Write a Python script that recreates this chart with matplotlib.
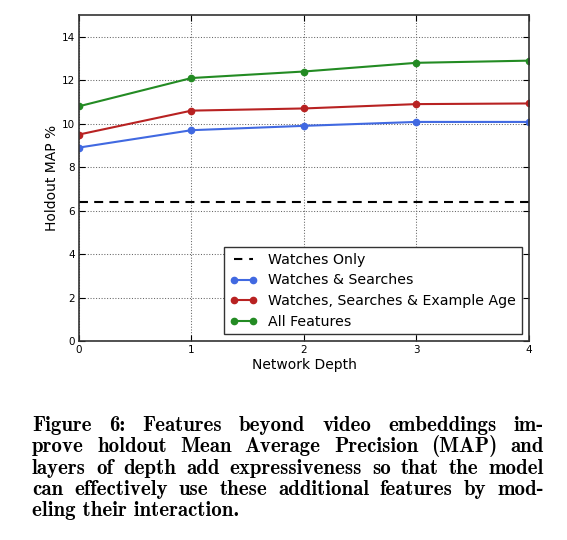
import numpy as np
import matplotlib
matplotlib.use('Agg')
import matplotlib.pyplot as plt

# data
depth = [0, 1, 2, 3, 4]
watches_only = 6.4
watches_searches = [8.9, 9.7, 9.9, 10.08, 10.08]
watches_searches_age = [9.5, 10.6, 10.7, 10.9, 10.93]
all_features = [10.8, 12.1, 12.4, 12.8, 12.9]
yticks = [0, 2, 4, 6, 8, 10, 12, 14]

caption = [
    'Figure 6:  Features beyond video embeddings im-',
    'prove holdout Mean Average Precision (MAP) and',
    'layers of depth add expressiveness so that the model',
    'can effectively use these additional features by mod-',
    'eling their interaction.',
]

W, H = 567, 540
fig = plt.figure(figsize=(W / 100, H / 100), dpi=100)
ax = fig.add_axes([79 / W, 1 - 341 / H, 450 / W, 326 / H])

ax.plot([depth[0], depth[-1]], [watches_only, watches_only], color='black', ls='--',
        lw=1.5, dashes=(4.3, 3.0), label='Watches Only')
ax.plot(depth, watches_searches, '-o', color='#4169e1', lw=1.5, ms=4.5, mec='#4169e1',
        label='Watches & Searches')
ax.plot(depth, watches_searches_age, '-o', color='#b82222', lw=1.5, ms=4.5, mec='#b82222',
        label='Watches, Searches & Example Age')
ax.plot(depth, all_features, '-o', color='#238b23', lw=1.5, ms=4.5, mec='#238b23',
        label='All Features')

ax.set_xlim(0, 4)
ax.set_ylim(0, 15)
ax.set_xticks(depth)
ax.set_yticks(yticks)
ax.tick_params(direction='in', top=True, right=True, labelsize=7.5, length=4, pad=3)
ax.grid(True, ls=':', color='#666666', lw=0.75)
for s in ax.spines.values():
    s.set_color('#333333')
    s.set_linewidth(1.2)
ax.set_xlabel('Network Depth', fontsize=10, labelpad=2)
ax.set_ylabel('Holdout MAP %', fontsize=10, labelpad=2)

leg = ax.legend(loc='lower right', bbox_to_anchor=(0.984, 0.02), borderaxespad=0,
                fontsize=10.2, numpoints=2, handlelength=2.0, handletextpad=0.75,
                labelspacing=0.47, fancybox=False, framealpha=1, borderpad=0.4)
leg.get_frame().set_edgecolor('#333333')
leg.get_frame().set_linewidth(1.0)
leg.legend_handles[0].set_dashes((4, 3.3))

# caption, justified line by line
cap_font = dict(family='cmb10', fontsize=15.0, color='black')
left, right = 32, 544
base = [431, 452, 473.5, 495, 516]
fig.canvas.draw()
r = fig.canvas.get_renderer()
for i, line in enumerate(caption):
    y = 1 - base[i] / H
    if i == len(caption) - 1:
        fig.text(left / W, y, line, va='baseline', ha='left', **cap_font)
        continue
    words = line.split()
    texts = [fig.text(0, y, w_, va='baseline', ha='left', **cap_font) for w_ in words]
    widths = [t.get_window_extent(r).width for t in texts]
    gap = (right - left - sum(widths)) / (len(words) - 1)
    x = left
    for t, wd in zip(texts, widths):
        t.set_x(x / W)
        x += wd + gap

fig.savefig('out.png', dpi=100)
